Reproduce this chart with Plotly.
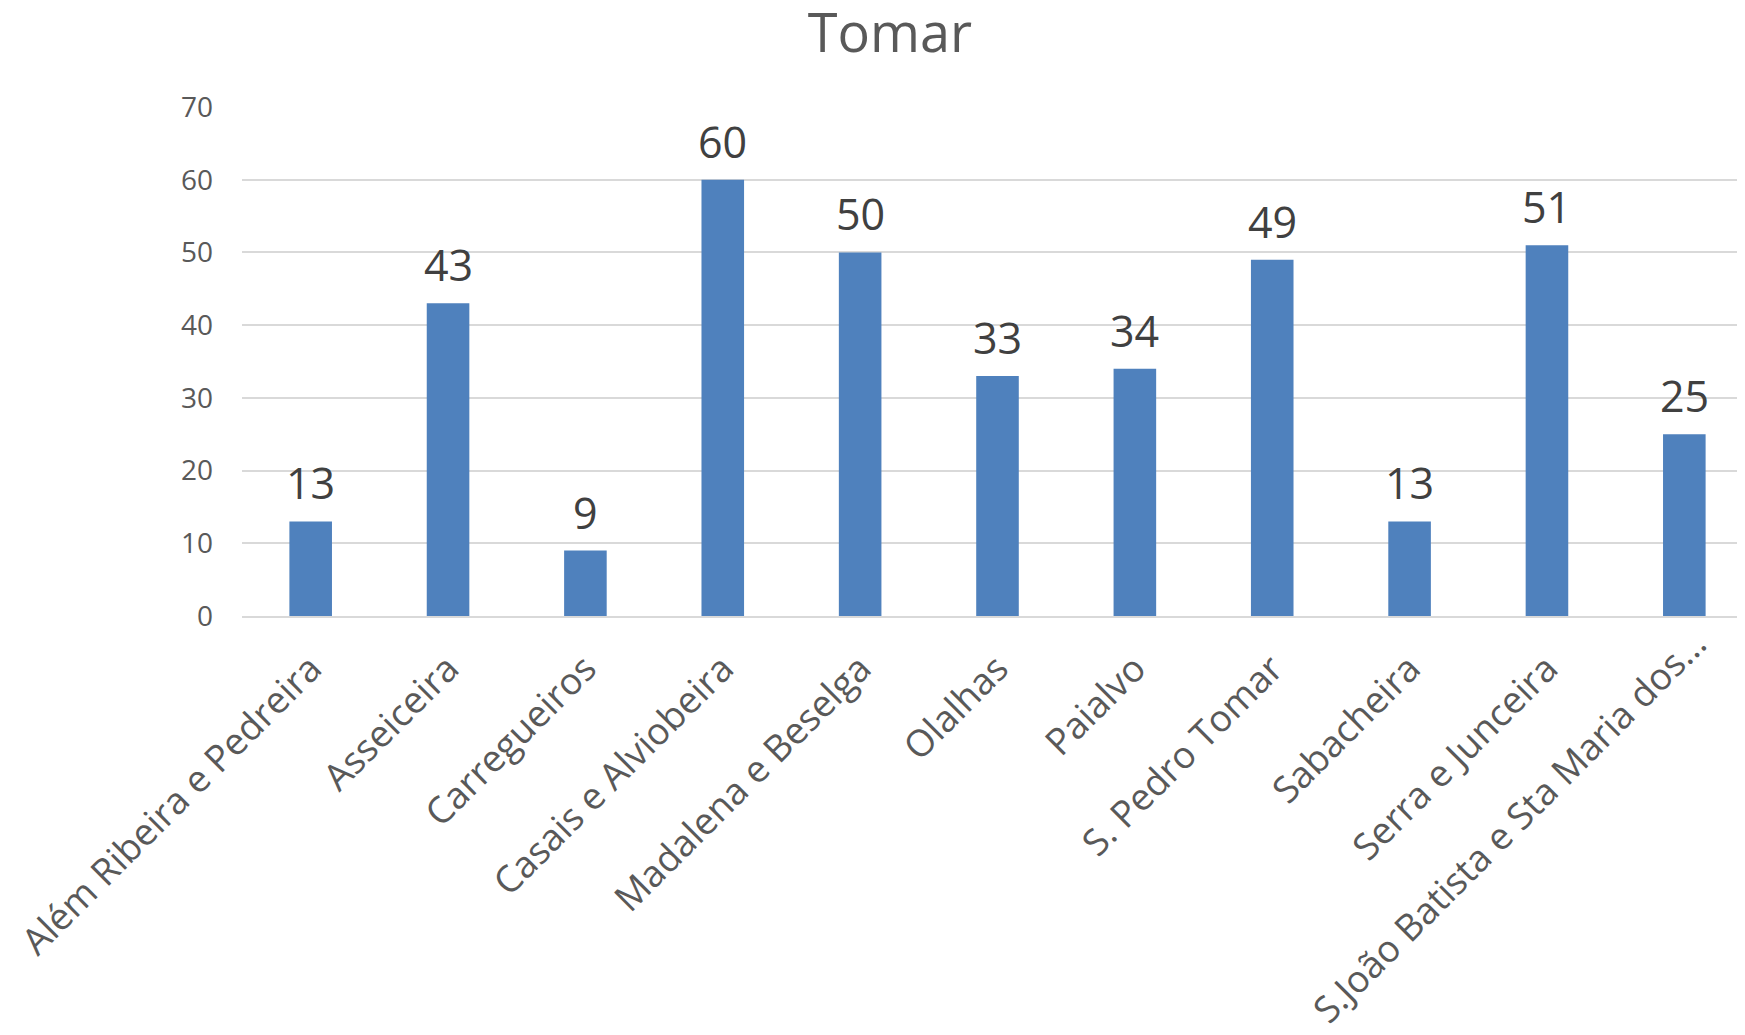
import plotly.graph_objects as go

categories = ["Além Ribeira e Pedreira", "Asseiceira", "Carregueiros", "Casais e Alviobeira",
              "Madalena e Beselga", "Olalhas", "Paialvo", "S. Pedro Tomar", "Sabacheira",
              "Serra e Junceira", "S.João Batista e Sta Maria dos…"]
values = [13, 43, 9, 60, 50, 33, 34, 49, 13, 51, 25]
y_ticks = [0, 10, 20, 30, 40, 50, 60, 70]
title_text = "Tomar"

FONT = "Open Sans"
W, H = 1745, 1035
TICK_FONT = dict(family=FONT, size=37, color="#595959")

fig = go.Figure()
fig.add_trace(go.Bar(
    x=categories, y=values,
    marker=dict(color="#4f81bd", line=dict(width=0)),
    hoverinfo="x+y",
))

for c, v in zip(categories, values):
    fig.add_annotation(
        x=c, y=v, xref="x", yref="y",
        text=str(v), showarrow=False,
        yanchor="bottom", yshift=7,
        font=dict(family=FONT, size=43, color="#404040"),
    )

# Last category label is nudged (as in the reference) so that it fits in the canvas
tick_text = categories[:-1] + [""]
fig.add_annotation(
    x=categories[-1], y=0, xref="x", yref="y",
    text=categories[-1], showarrow=False, textangle=-45,
    xanchor="center", yanchor="middle",
    xshift=-176, yshift=-209,
    font=TICK_FONT,
)

fig.update_layout(
    width=W, height=H,
    margin=dict(l=234, r=0, t=99, b=427, autoexpand=False),
    paper_bgcolor="white", plot_bgcolor="white",
    bargap=0.69,
    showlegend=False,
    title=dict(text=title_text, x=882 / W, xref="container", xanchor="center",
               y=1 - 25 / H, yref="container", yanchor="middle",
               font=dict(family=FONT, size=54, color="#595959")),
    font=dict(family=FONT),
)
fig.update_xaxes(
    type="category",
    tickmode="array", tickvals=categories, ticktext=tick_text,
    tickangle=-45,
    tickfont=TICK_FONT,
    showline=True, linecolor="#d9d9d9", linewidth=2,
    ticks="", showgrid=False,
    ticklabelstandoff=14,
)
fig.update_yaxes(
    range=[0, 70],
    tickvals=y_ticks,
    tickfont=dict(family=FONT, size=28, color="#595959"),
    showgrid=True, gridcolor="#d9d9d9", gridwidth=2,
    zeroline=False, showline=False, ticks="", ticklen=0,
    ticklabelstandoff=28,
)

fig.write_html("out.html")
